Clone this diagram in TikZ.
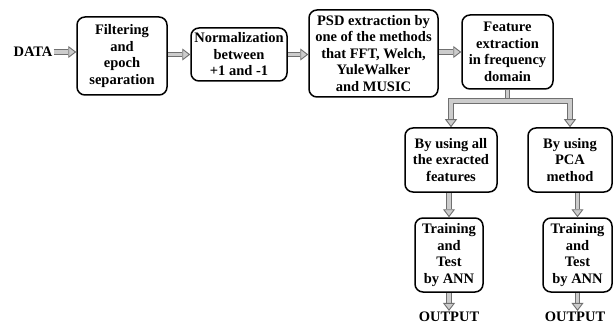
\documentclass[tikz,border=0pt]{standalone}
\usepackage{fontspec}
\setmainfont{Liberation Serif}
\usetikzlibrary{arrows.meta}
\begin{document}
\begin{tikzpicture}[x=1pt,y=-1pt,
  box/.style={draw, line width=1.5pt, rounded corners=8pt, align=center, inner sep=1pt,
    font=\fontsize{14.5}{16.5}\selectfont\bfseries},
  lbl/.style={font=\fontsize{14.5}{16.5}\selectfont\bfseries, inner sep=1pt},
  tip/.style={},
  arr/.style={draw=gray!60!black!80, double=gray!40, double distance=3.4pt, line width=0.9pt,
    -{Triangle[length=8pt,width=12pt,fill=gray!40,line width=0.9pt]}},
  shaft/.style={draw=gray!60!black!80, double=gray!40, double distance=3.4pt, line width=0.9pt},
]
\useasboundingbox (0,0) rectangle (613,326);
\node[lbl] (data) at (33,52) {DATA};
\node[box, minimum width=90pt, minimum height=78pt] (b1) at (122,56) {Filtering\\and\\epoch\\separation};
\node[box, minimum width=96pt, minimum height=53pt] (b2) at (239,54.5) {Normalization\\between\\+1 and -1};
\node[box, minimum width=129pt, minimum height=87pt] (b3) at (373.5,53.5) {PSD extraction by\\one of the methods\\that FFT, Welch,\\YuleWalker\\and MUSIC};
\node[box, minimum width=91pt, minimum height=74pt] (b4) at (507.5,52) {Feature\\extraction\\in frequency\\domain};
\node[box, minimum width=92pt, minimum height=64pt] (b5) at (451,160) {By using all\\the exracted\\features};
\node[box, minimum width=84pt, minimum height=64pt] (b6) at (570,160) {By using\\PCA\\method};
\node[box, minimum width=68pt, minimum height=74pt] (b7) at (449,255) {Training\\and\\Test\\by ANN};
\node[box, minimum width=69pt, minimum height=74pt] (b8) at (577.5,255) {Training\\and\\Test\\by ANN};
\node[lbl] (o1) at (449,317) {OUTPUT};
\node[lbl] (o2) at (575,317) {OUTPUT};
\coordinate (j) at (507.5,101);
\draw[arr] (data.east) -- (b1.west |- data.east);
\draw[arr] (b1.east |- b2.west) -- (b2.west);
\draw[arr] (b2.east) -- (b3.west |- b2.east);
\draw[arr] (b3.east |- b4.west) -- (b4.west);
\draw[shaft] (b4.south) -- (j);
\draw[arr, {Triangle[length=8pt,width=12pt,fill=gray!40,line width=0.9pt]}-{Triangle[length=8pt,width=12pt,fill=gray!40,line width=0.9pt]}] (b5.north) |- (j) -| (b6.north);
\draw[arr] (b5.south -| b7.north) -- (b7.north);
\draw[arr] (b6.south -| b8.north) -- (b8.north);
\draw[arr] (b7.south) -- (o1.north);
\draw[arr] (b8.south) -- (o2.north -| b8.south);
\end{tikzpicture}
\end{document}
